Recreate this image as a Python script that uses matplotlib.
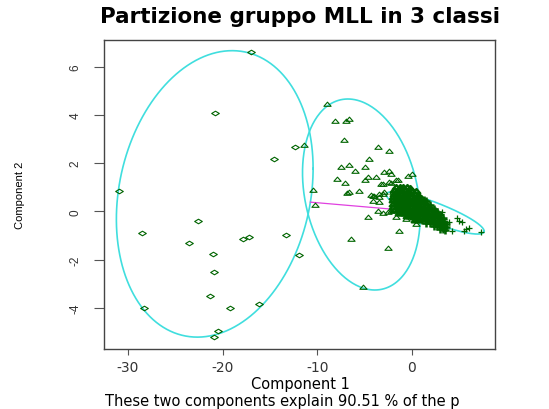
import numpy as np
import matplotlib
matplotlib.use("Agg")
import matplotlib.pyplot as plt
from matplotlib.path import Path

# cluster 1 (diamonds)
c1_x = [-16.95, -20.79, -12.29, -14.57, -30.94, -22.64, -28.55, -23.49, -17.84, -17.24,
        -13.27, -11.94, -21.03, -20.93, -21.32, -16.11, -19.21, -28.27, -20.51, -20.90]
c1_y = [6.60, 4.09, 2.68, 2.19, 0.84, -0.38, -0.88, -1.29, -1.13, -1.06,
        -0.97, -1.79, -1.77, -2.49, -3.51, -3.82, -3.99, -3.99, -4.96, -5.19]

# cluster 2 (triangles): scattered part
c2_x = [-8.99, -8.07, -6.94, -6.60, -7.12, -11.34, -3.54, -2.38, -4.49, -7.47,
        -6.60, -5.96, -4.91, -7.89, -7.02, -4.67, -4.91, -5.54, -6.88, -6.67,
        -10.46, -10.18, -4.59, -1.33, -6.42, -2.56, -5.20, 0.01, -2.38, -3.09,
        -2.20, -1.68, -4.14, -3.44, -0.45, -4.31, -3.44, -2.91, -3.09, -2.20,
        -3.78, -2.91, -2.20, -3.26, -2.38, -1.51, -3.96, -3.09, -2.03, -4.14,
        -3.44, -3.61, -2.56, -1.68, -0.62, 0.43]
c2_y = [4.45, 3.74, 3.74, 3.83, 2.96, 2.75, 2.66, 2.52, 2.17, 1.83,
        1.94, 1.69, 1.83, 1.35, 1.18, 1.42, 1.28, 0.84, 0.77, 0.80,
        0.90, 0.27, -0.24, -0.82, -1.14, -1.52, -3.14, 1.55, 1.67, 1.14,
        1.17, 1.30, 0.65, 0.72, 1.48, 0.68, 0.59, 0.80, -0.06, 0.03,
        1.42, 1.62, 1.55, 1.14, 1.21, 1.28, 0.65, 0.72, 0.80, 0.45,
        0.38, 0.03, -0.03, -0.24, -0.31, -0.52]

# cluster 2: dense core
c2_core_x = [-1.62, -1.25, -0.90, -0.52, -0.18,
             -1.85, -1.47, -1.10, -0.72, -0.35, 0.02, 0.40,
             -1.90, -1.55, -1.18, -0.80, -0.43, -0.08, 0.30, 0.68,
             -1.95, -1.60, -1.22, -0.85, -0.48, -0.12, 0.25, 0.62, 0.95,
             -2.00, -1.62, -1.25, -0.88, -0.50, -0.15, 0.22, 0.58, 0.92,
             -1.98, -1.60, -1.22, -0.86, -0.49, -0.12, 0.24, 0.60, 0.96,
             -1.95, -1.58, -1.20, -0.83, -0.46, -0.10, 0.27, 0.63, 0.98,
             -1.85, -1.48, -1.12, -0.75, -0.38, -0.02, 0.35, 0.70,
             -1.40, -1.05, -0.68, -0.30, 0.05, 0.42, 0.80,
             -0.50, -0.15, 0.22, 0.60, 0.92,
             0.30, 0.68]
c2_core_y = [1.02, 1.02, 1.01, 0.99, 0.97,
             0.88, 0.88, 0.87, 0.87, 0.86, 0.85, 0.83,
             0.74, 0.74, 0.74, 0.73, 0.73, 0.72, 0.71, 0.69,
             0.60, 0.60, 0.60, 0.60, 0.59, 0.58, 0.57, 0.56, 0.54,
             0.46, 0.46, 0.46, 0.46, 0.45, 0.45, 0.44, 0.43, 0.42,
             0.32, 0.32, 0.32, 0.32, 0.31, 0.31, 0.30, 0.30, 0.29,
             0.18, 0.18, 0.18, 0.18, 0.17, 0.17, 0.16, 0.16, 0.15,
             0.05, 0.05, 0.05, 0.04, 0.04, 0.04, 0.03, 0.03,
             -0.08, -0.08, -0.08, -0.09, -0.09, -0.10, -0.10,
             -0.21, -0.21, -0.22, -0.22, -0.23,
             -0.34, -0.35]

# cluster 3 (crosses): outer part
c3_x = [2.36, 3.07, 4.82, 4.99, 3.94, 5.34, 4.29, 5.70, 5.52, 6.05,
        7.28, 3.41, 2.71, 3.23]
c3_y = [0.03, -0.10, -0.28, -0.38, -0.45, -0.45, -0.80, -0.72, -0.80, -0.70,
        -0.86, -0.31, -0.52, -0.03]

# cluster 3: dense core
c3_core_x = [1.25, 1.55,
             1.30, 1.65, 1.95,
             1.32, 1.68, 2.02, 2.30,
             1.05, 1.40, 1.75, 2.10, 2.45, 2.70,
             1.15, 1.50, 1.85, 2.20, 2.55, 2.85,
             1.28, 1.62, 1.98, 2.32, 2.68, 3.00, 3.25,
             1.05, 1.40, 1.75, 2.10, 2.45, 2.80, 3.12, 3.42,
             1.55, 1.90, 2.25, 2.60, 2.95, 3.30, 3.58,
             2.30, 2.65, 3.00, 3.35, 3.62,
             2.95, 3.30, 3.55]
c3_core_y = [0.46, 0.44,
             0.32, 0.30, 0.28,
             0.18, 0.16, 0.14, 0.12,
             0.05, 0.04, 0.03, 0.02, 0.00, -0.02,
             -0.08, -0.09, -0.10, -0.11, -0.12, -0.14,
             -0.21, -0.22, -0.23, -0.24, -0.25, -0.26, -0.28,
             -0.34, -0.35, -0.36, -0.37, -0.38, -0.39, -0.40, -0.42,
             -0.47, -0.48, -0.49, -0.50, -0.51, -0.52, -0.54,
             -0.60, -0.61, -0.62, -0.63, -0.65,
             -0.72, -0.73, -0.75]

# ellipses: centre and shape matrix [[sxx, sxy], [sxy, syy]]
ell_cx = [-20.82, -5.33, 2.47]
ell_cy = [0.725, 0.70, -0.062]
ell_sxx = [108.0, 38.65, 26.77]
ell_syy = [35.2, 15.65, 0.768]
ell_sxy = [10.9, -5.63, -3.914]

x_ticks = [-30, -20, -10, 0]
y_ticks = [-4, -2, 0, 2, 4, 6]

green = '#006400'
cyan = '#40DEDE'

diamond = Path([(-1, 0), (0, 0.6), (1, 0), (0, -0.6), (-1, 0)], closed=True)
tri = Path([(-1, -0.5), (0, 0.65), (1, -0.5), (-1, -0.5)], closed=True)

fig = plt.figure(figsize=(5.49, 4.10), dpi=100)
ax = fig.add_axes([104 / 549, 1 - 350 / 410, (495 - 104) / 549, (350 - 41) / 410])

shapes = []
t = np.linspace(0, 2 * np.pi, 300)
for cx, cy, sxx, syy, sxy in zip(ell_cx, ell_cy, ell_sxx, ell_syy, ell_sxy):
    S = np.array([[sxx, sxy], [sxy, syy]])
    shapes.append(S)
    L = np.linalg.cholesky(S)
    pts = L @ np.vstack([np.cos(t), np.sin(t)])
    ax.plot(cx + pts[0], cy + pts[1], color=cyan, lw=1.2, zorder=2)

# segment between boundaries of ellipse 1 and 3 (clusplot lines=2)
c1 = np.array([ell_cx[0], ell_cy[0]])
c3 = np.array([ell_cx[2], ell_cy[2]])
d = c3 - c1
t1 = 1 / np.sqrt(d @ np.linalg.solve(shapes[0], d))
t3 = 1 / np.sqrt(d @ np.linalg.solve(shapes[2], d))
p_a = c1 + t1 * d
p_b = c3 - t3 * d
ax.plot([p_a[0], p_b[0]], [p_a[1], p_b[1]], color='#E040E0', lw=0.9, zorder=2)

ax.plot(c1_x, c1_y, linestyle='none', marker=diamond, ms=5.5, mfc='none', mec=green, mew=0.8, zorder=3)
ax.plot(c2_x, c2_y, linestyle='none', marker=tri, ms=5.2, mfc='none', mec=green, mew=0.8, zorder=3)
ax.plot(c2_core_x, c2_core_y, linestyle='none', marker=tri, ms=5.4, mfc='none', mec=green, mew=1.7, zorder=3)
ax.plot(c3_x, c3_y, linestyle='none', marker='+', ms=5, mec=green, mew=0.9, zorder=3)
ax.plot(c3_core_x, c3_core_y, linestyle='none', marker='+', ms=5.5, mec=green, mew=1.8, zorder=3)

ax.set_xlim(-32.52, 8.79)
ax.set_ylim(-5.70, 7.10)
ax.set_xticks(x_ticks)
ax.set_yticks(y_ticks)
ax.set_xticklabels([str(v) for v in x_ticks], fontsize=10, color='#333333')
ax.set_yticklabels([str(v) for v in y_ticks], fontsize=8.5, family='Liberation Sans',
                   rotation=90, va='center', color='#333333')
ax.tick_params(axis='x', length=4.5, width=0.8, color='#555555', pad=3.5)
ax.tick_params(axis='y', length=7, width=0.8, color='#555555', pad=9)
for sp in ax.spines.values():
    sp.set_color('#444444')
    sp.set_linewidth(1.0)

fig.text(300 / 549, 1 - 17 / 410, 'Partizione gruppo MLL in 3 classi', ha='center', va='center',
         fontsize=15.5, fontweight='bold')
fig.text(300 / 549, 1 - 385 / 410, 'Component 1', ha='center', va='center', fontsize=10.5)
fig.text(105 / 549, 1 - 401.5 / 410, 'These two components explain 90.51 % of the p',
         ha='left', va='center', fontsize=10.5)
fig.text(20 / 549, 1 - 195 / 410, 'Component 2', ha='center', va='center', rotation=90,
         fontsize=8, family='Liberation Sans')

fig.savefig('out.png', dpi=100)
